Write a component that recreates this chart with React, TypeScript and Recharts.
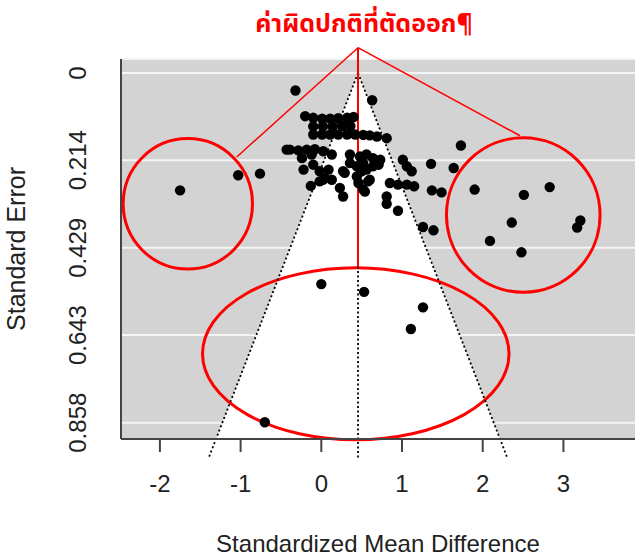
import React from "react";
import {
  Area,
  CartesianGrid,
  ComposedChart,
  ReferenceArea,
  ReferenceLine,
  Scatter,
  XAxis,
  YAxis,
} from "recharts";

// study effects (standardized mean difference) and their standard errors
const smd = [
  -0.32, 0.63,
  -0.2, -0.1, 0.01, 0.11, 0.21, 0.32, 0.4,
  -0.1, 0.02, 0.14, 0.26, 0.36,
  -0.1, 0.01, 0.11, 0.21, 0.32, 0.42, 0.52, 0.6, 0.69, 0.81,
  1.73,
  -0.43, -0.39, -0.285, -0.18, -0.08, 0.025, 0.13, 0.355, 0.56, 0.64, 0.73,
  1.01, 1.06, 1.12, 1.36, 1.64,
  -1.03, -0.76, -1.75,
  1.9, 2.51, 2.83, 2.36, 2.09, 3.21, 3.17, 2.48,
  1.37, 1.49, 1.26, 1.39, 0.95, 0.81, 0.81,
  0.85, 0.95, 1.06, 1.15, 0.54, 0.27, 0.23, -0.13,
  -0.22, -0.1, -0.02, 0.09, 0.27, 0.02, 0.13,
  0.44, 0.56, 0.6, 0.64, 0.52,
  -0.24, -0.12, -0.02, 0.05, 0.355, 0.52, 0.58, 0.71, 0.29,
  0.48, 0.44, 0.5, 0.46,
  0.0, 0.53, 1.26, 1.11, -0.7,
];
const se = [
  0.043, 0.067,
  0.106, 0.11, 0.112, 0.112, 0.111, 0.11, 0.108,
  0.131, 0.131, 0.131, 0.13, 0.13,
  0.151, 0.151, 0.151, 0.151, 0.151, 0.151, 0.152, 0.153, 0.156, 0.16,
  0.178,
  0.188, 0.188, 0.19, 0.188, 0.187, 0.192, 0.2, 0.2, 0.2, 0.209, 0.213,
  0.213, 0.229, 0.241, 0.223, 0.233,
  0.251, 0.247, 0.288,
  0.286, 0.299, 0.28, 0.367, 0.412, 0.362, 0.379, 0.44,
  0.288, 0.293, 0.378, 0.386, 0.338, 0.321, 0.303,
  0.27, 0.274, 0.274, 0.278, 0.291, 0.303, 0.282, 0.277,
  0.237, 0.225, 0.241, 0.237, 0.241, 0.262, 0.262,
  0.254, 0.237, 0.262, 0.229, 0.286,
  0.209, 0.2, 0.266, 0.258, 0.221, 0.221, 0.266, 0.225, 0.245,
  0.205, 0.229, 0.241, 0.27,
  0.518, 0.537, 0.575, 0.628, 0.857,
];

const xTicks = [-2, -1, 0, 1, 2, 3];
const yTicks = [0, 0.214, 0.429, 0.643, 0.858];
const yTickLabels = ["0", "0.214", "0.429", "0.643", "0.858"];

// funnel (pseudo confidence region)
const funnelCenter = 0.455;
const funnelX = [-1.305, 0.455, 2.215];
const funnelSE = [0.898, 0, 0.898];
const funnelEndSE = 0.944;
const funnelEndLeft = -1.395;
const funnelEndRight = 2.305;

// red annotation shapes (bounds in data units)
const circles = [
  { x1: -2.455, x2: -0.853, y1: 0.161, y2: 0.481 },
  { x1: 1.551, x2: 3.454, y1: 0.159, y2: 0.538 },
  { x1: -1.472, x2: 2.326, y1: 0.478, y2: 0.9 },
];
const pointerTop = { x: 0.455, y: -0.062 };
const pointerEnds = [
  { x: -1.048, y: 0.206 },
  { x: 2.462, y: 0.154 },
  { x: 0.455, y: 0.475 },
];

const title = "ค่าผิดปกติที่ตัดออก¶";

const points = smd.map((x, i) => ({ x, se: se[i] }));
const funnelData = funnelX.map((x, i) => ({ x, band: [funnelSE[i], 0.898] }));

const RED = "#ff0000";
const AXIS = "#444";
const FONT = "'Liberation Sans', Arial, sans-serif";

function EllipseShape(props: any) {
  const { x, y, width, height } = props;
  return (
    <ellipse
      cx={x + width / 2}
      cy={y + height / 2}
      rx={Math.abs(width) / 2}
      ry={Math.abs(height) / 2}
      fill="none"
      stroke={RED}
      strokeWidth={3}
    />
  );
}

function XTick(props: any) {
  const { x, y, payload } = props;
  return (
    <text x={x} y={y + 38} textAnchor="middle" fontSize={24} fill="#222" fontFamily={FONT}>
      {payload.value}
    </text>
  );
}

function YTick(props: any) {
  const { x, y, payload, index } = props;
  const tx = x - 27;
  return (
    <text
      x={tx}
      y={y}
      textAnchor="middle"
      fontSize={24}
      fill="#222"
      fontFamily={FONT}
      transform={`rotate(-90, ${tx}, ${y})`}
    >
      {yTickLabels[index] ?? payload.value}
    </text>
  );
}

export default function App() {
  return (
    <div style={{ position: "absolute", left: 0, top: 0, width: 635, height: 558, overflow: "hidden", background: "#fff" }}>
      <div
        style={{
          position: "absolute",
          left: 0,
          top: 8,
          width: 728,
          textAlign: "center",
          color: RED,
          fontWeight: "bold",
          fontSize: 25,
          fontFamily: "Tahoma, 'Noto Sans Thai', 'DejaVu Sans', sans-serif",
          lineHeight: "32px",
          zIndex: 2,
        }}
      >
        {title}
      </div>
      <ComposedChart
        width={640}
        height={558}
        data={funnelData}
        margin={{ top: 59, right: 5, bottom: 0, left: 0 }}
      >
        <CartesianGrid
          vertical={false}
          fill="#d3d3d3"
          fillOpacity={1}
          stroke="#f4f4f4"
          strokeWidth={2}
        />
        <XAxis
          type="number"
          dataKey="x"
          domain={[-2.482, 3.887]}
          ticks={xTicks}
          interval={0}
          allowDataOverflow
          height={119}
          tickSize={13}
          axisLine={{ stroke: AXIS, strokeWidth: 2 }}
          tickLine={{ stroke: AXIS, strokeWidth: 2 }}
          tick={<XTick />}
          label={{
            content: (p: any) => {
              const vb = p.viewBox;
              return (
                <text x={vb.x + vb.width / 2} y={vb.y + 113} textAnchor="middle" fontSize={24} fill="#222" fontFamily={FONT}>
                  Standardized Mean Difference
                </text>
              );
            },
          }}
        />
        <YAxis
          type="number"
          dataKey="se"
          reversed
          domain={[-0.0343, 0.898]}
          ticks={yTicks}
          interval={0}
          allowDataOverflow
          width={121}
          tickLine={false}
          axisLine={{ stroke: AXIS, strokeWidth: 2 }}
          tick={<YTick />}
          label={{
            content: (p: any) => {
              const vb = p.viewBox;
              const cy = vb.y + vb.height / 2;
              return (
                <text x={25} y={cy} textAnchor="middle" fontSize={25} fill="#222" fontFamily={FONT} transform={`rotate(-90, 25, ${cy})`}>
                  Standard Error
                </text>
              );
            },
          }}
        />
        <Area
          type="linear"
          dataKey="band"
          stroke="none"
          fill="#ffffff"
          fillOpacity={1}
          isAnimationActive={false}
          activeDot={false}
          dot={false}
        />
        <ReferenceLine
          segment={[{ x: funnelCenter, y: 0 }, { x: funnelEndLeft, y: funnelEndSE }]}
          stroke="#000"
          strokeWidth={1.8}
          strokeDasharray="2 2.5"
          ifOverflow="visible"
        />
        <ReferenceLine
          segment={[{ x: funnelCenter, y: 0 }, { x: funnelEndRight, y: funnelEndSE }]}
          stroke="#000"
          strokeWidth={1.8}
          strokeDasharray="2 2.5"
          ifOverflow="visible"
        />
        <ReferenceLine
          segment={[{ x: funnelCenter, y: 0 }, { x: funnelCenter, y: funnelEndSE }]}
          stroke="#000"
          strokeWidth={1.8}
          strokeDasharray="2 2.5"
          ifOverflow="visible"
        />
        <Scatter
          data={points}
          dataKey="se"
          isAnimationActive={false}
          shape={(p: any) => <circle cx={p.cx} cy={p.cy} r={5.2} fill="#000" />}
        />
        {pointerEnds.map((e, i) => (
          <ReferenceLine
            key={`ptr${i}`}
            segment={[pointerTop, e]}
            stroke={RED}
            strokeWidth={i === 2 ? 2 : 1.5}
            ifOverflow="visible"
          />
        ))}
        {circles.map((c, i) => (
          <ReferenceArea
            key={`c${i}`}
            x1={c.x1}
            x2={c.x2}
            y1={c.y1}
            y2={c.y2}
            ifOverflow="visible"
            shape={<EllipseShape />}
          />
        ))}
      </ComposedChart>
    </div>
  );
}
